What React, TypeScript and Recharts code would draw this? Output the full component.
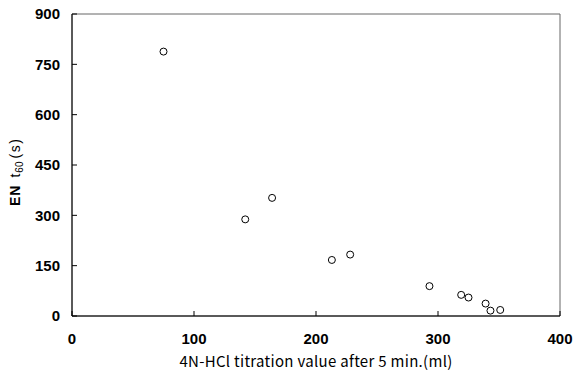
import React from "react";
import {
	ReferenceArea,
	Scatter,
	ScatterChart,
	XAxis,
	YAxis,
} from "recharts";

// titration value (ml) vs EN t60 (s)
const titration = [75, 142, 164, 213, 228, 293, 319, 325, 339, 343, 351];
const t60 = [788, 288, 352, 167, 183, 89, 63, 55, 37, 16, 18];

const xTicks = [0, 100, 200, 300, 400];
const yTicks = [0, 150, 300, 450, 600, 750, 900];

const points = titration.map((x, i) => ({ x, y: t60[i] }));

const tickStyle = {
	fontFamily: "'Liberation Sans', Arial, sans-serif",
	fontSize: 15,
	fontWeight: "bold",
	fill: "#000",
};

// open circle marker
const Ring = (props: any) => (
	<circle cx={props.cx} cy={props.cy} r={3.5} fill="#fff" stroke="#000" strokeWidth={1} />
);

const YTitle = (props: any) => {
	const vb = props.viewBox;
	const cx = vb.x + 20;
	const cy = vb.y + 192;
	return (
		<text
			x={cx}
			y={cy}
			transform={`rotate(-90, ${cx}, ${cy})`}
			textAnchor="start"
			fontFamily="'Liberation Sans', Arial, sans-serif"
			fontSize={14}
			fill="#000"
		>
			<tspan fontWeight="bold" letterSpacing={1}>EN</tspan>
			<tspan dx={7}>t</tspan>
			<tspan dx={1} dy={3} fontSize={10}>60</tspan>
			<tspan dy={-3} dx={3} letterSpacing={1.5}>(s)</tspan>
		</text>
	);
};

const XTitle = (props: any) => {
	const vb = props.viewBox;
	return (
		<text
			x={vb.x + vb.width / 2}
			y={vb.y + 51}
			textAnchor="middle"
			fontFamily="'Noto Sans CJK JP', sans-serif"
			fontSize={15}
			letterSpacing={0.3}
			fill="#000"
		>
			4N-HCl titration value after 5 min.(ml)
		</text>
	);
};

export default function App() {
	return (
		<div style={{ position: "absolute", left: 0, top: 0 }}>
			<ScatterChart
				width={575}
				height={373}
				margin={{ top: 14, right: 15, bottom: 0, left: 0 }}
			>
				<ReferenceArea
					x1={0}
					x2={400}
					y1={0}
					y2={900}
					fill="none"
					stroke="#666"
					strokeWidth={1}
				/>
				<XAxis
					type="number"
					dataKey="x"
					domain={[0, 400]}
					ticks={xTicks}
					height={57}
					tickSize={-5}
					tickMargin={22}
					tick={tickStyle}
					axisLine={{ stroke: "#000" }}
					tickLine={{ stroke: "#000" }}
					label={{ content: XTitle }}
				/>
				<YAxis
					type="number"
					dataKey="y"
					domain={[0, 900]}
					ticks={yTicks}
					width={72}
					tickSize={-5}
					tickMargin={17}
					tick={tickStyle}
					axisLine={{ stroke: "#000" }}
					tickLine={{ stroke: "#000" }}
					label={{ content: YTitle }}
				/>
				<Scatter data={points} shape={Ring} isAnimationActive={false} />
			</ScatterChart>
		</div>
	);
}
